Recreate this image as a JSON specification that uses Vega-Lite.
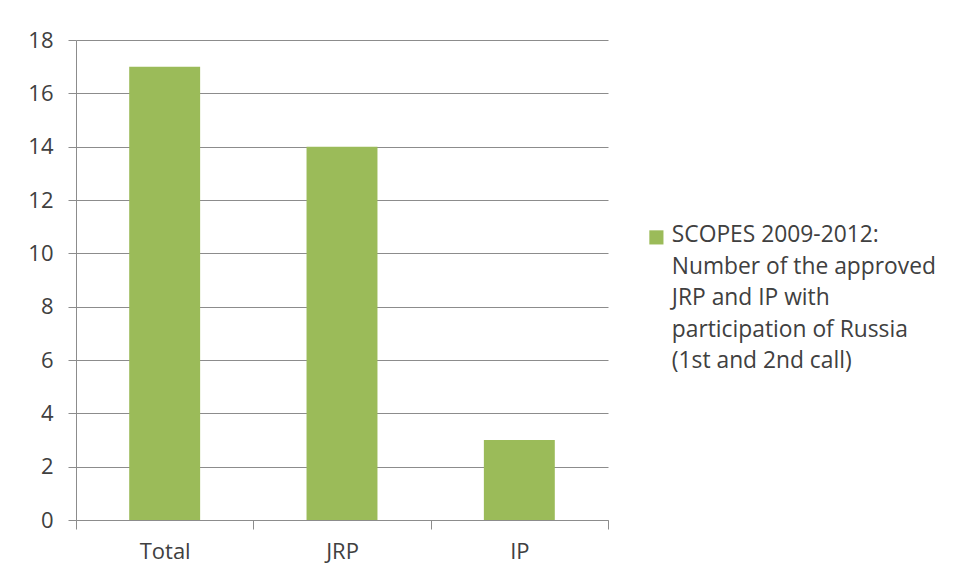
{
  "$schema": "https://vega.github.io/schema/vega-lite/v6.json",
  "autosize": "none",
  "width": 532,
  "height": 480,
  "padding": {"left": 76, "top": 40, "right": 350, "bottom": 61},
  "background": "white",
  "config": {
    "font": "Open Sans",
    "view": {"stroke": null},
    "axis": {"labelFont": "Open Sans", "labelColor": "#404040", "labelFontSize": 22}
  },
  "data": {
    "values": [
      {"category": "Total", "value": 17, "series": "SCOPES 2009-2012:|Number of the approved|JRP and IP with|participation of Russia|(1st and 2nd call)"},
      {"category": "JRP", "value": 14, "series": "SCOPES 2009-2012:|Number of the approved|JRP and IP with|participation of Russia|(1st and 2nd call)"},
      {"category": "IP", "value": 3, "series": "SCOPES 2009-2012:|Number of the approved|JRP and IP with|participation of Russia|(1st and 2nd call)"}
    ]
  },
  "mark": {"type": "bar", "width": {"band": 0.4}},
  "encoding": {
    "x": {
      "field": "category",
      "type": "nominal",
      "sort": null,
      "scale": {"paddingInner": 0, "paddingOuter": 0},
      "axis": {
        "title": null,
        "labelAngle": 0,
        "tickBand": "extent",
        "tickSize": 9,
        "tickColor": "#8c8c8c",
        "domainColor": "#8c8c8c",
        "labelPadding": 12,
        "grid": false
      }
    },
    "y": {
      "field": "value",
      "type": "quantitative",
      "scale": {"domain": [0, 18], "nice": false},
      "axis": {
        "title": null,
        "values": [0, 2, 4, 6, 8, 10, 12, 14, 16, 18],
        "tickSize": 8,
        "tickColor": "#8c8c8c",
        "domainColor": "#8c8c8c",
        "gridColor": "#8c8c8c",
        "grid": true,
        "labelPadding": 15
      }
    },
    "color": {
      "field": "series",
      "type": "nominal",
      "scale": {"range": ["#9BBB59"]},
      "legend": {
        "title": null,
        "orient": "none",
        "legendX": 569,
        "legendY": 186,
        "symbolType": "square",
        "symbolSize": 200,
        "symbolStrokeWidth": 0,
        "labelFontSize": 22.8,
        "labelFont": "Open Sans",
        "labelColor": "#404040",
        "labelLimit": 400,
        "labelBaseline": "alphabetic",
        "labelOffset": 4,
        "labelExpr": "split(datum.label, '|')",
        "encode": {
          "labels": {"update": {"lineHeight": {"value": 31.5}, "dy": {"value": 5}}}
        }
      }
    }
  }
}
